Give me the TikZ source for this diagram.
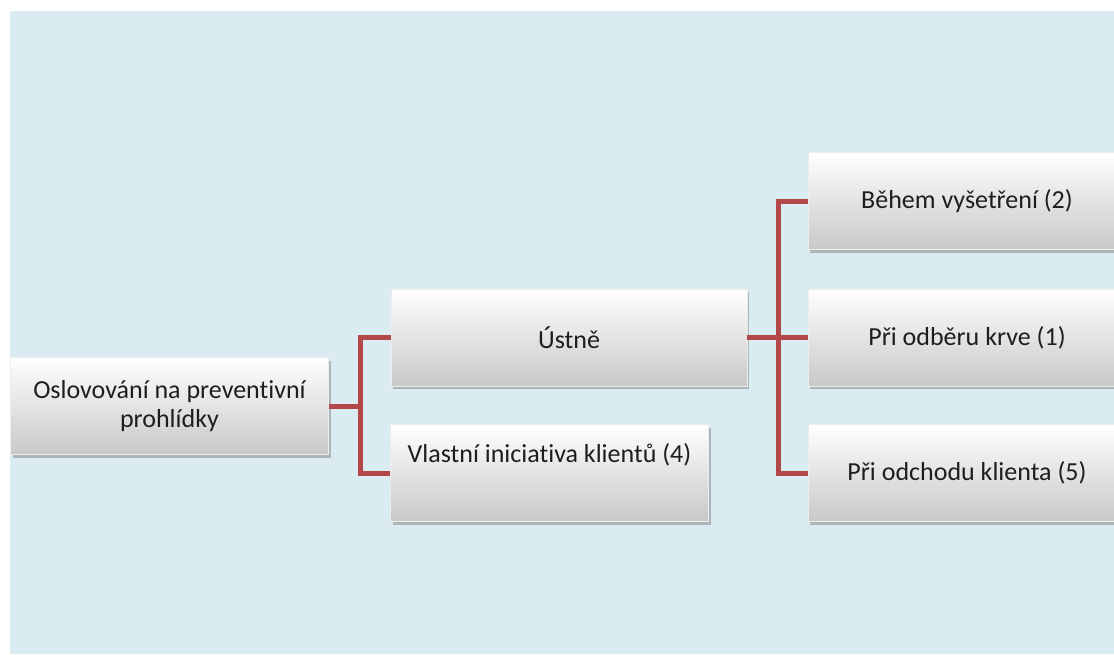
\documentclass[tikz,border=0pt]{standalone}
\usepackage{fontspec}
\setmainfont{Carlito}[Ligatures=NoCommon]
\usetikzlibrary{shadows,positioning,calc}
\definecolor{bgblue}{HTML}{DAECF2}
\definecolor{linkred}{HTML}{B24848}
\definecolor{boxgray}{HTML}{C8C8C8}
\definecolor{textgray}{HTML}{1E1E1E}

\begin{document}
\begin{tikzpicture}[
    x=1pt, y=-1pt,
    box/.style={rectangle, top color=white, bottom color=boxgray, draw=white!85!gray, line width=0.6pt,
        minimum width=318pt, minimum height=97pt, text=textgray, font=\fontsize{26}{29}\selectfont, align=center,
        drop shadow={shadow xshift=2pt, shadow yshift=-3pt, fill=black!50, opacity=0.5}},
    link/.style={draw=linkred, line width=5pt}
]
\useasboundingbox (0,0) rectangle (1114,654);
\fill[bgblue] (10,11) rectangle (1114,654);

% Boxes
\node[box] (root) at (169.5,406) {Oslovování na preventivní\\prohlídky};
\node[box, minimum width=356pt] (ustne) at (569,337.5) {Ústně};
\node[box, text depth=40pt] (vlastni) at (549.5,473) {Vlastní iniciativa klientů (4)};
\node[box] (behem) at (967,201) {Během vyšetření (2)};
\node[box] (odber) at (967,337.5) {Při odběru krve (1)};
\node[box] (odchod) at (967,473) {Při odchodu klienta (5)};

% Connectors
\coordinate (j1) at ($(root.east)+(32,0)$);
\coordinate (j2) at ($(ustne.east)+(31,0)$);
\draw[link] (root.east) -- (j1);
\draw[link] (ustne.west) -| (j1) |- (vlastni.west);
\draw[link] (ustne.east) -- (odber.west);
\draw[link] (behem.west) -| (j2) |- (odchod.west);

\end{tikzpicture}
\end{document}
